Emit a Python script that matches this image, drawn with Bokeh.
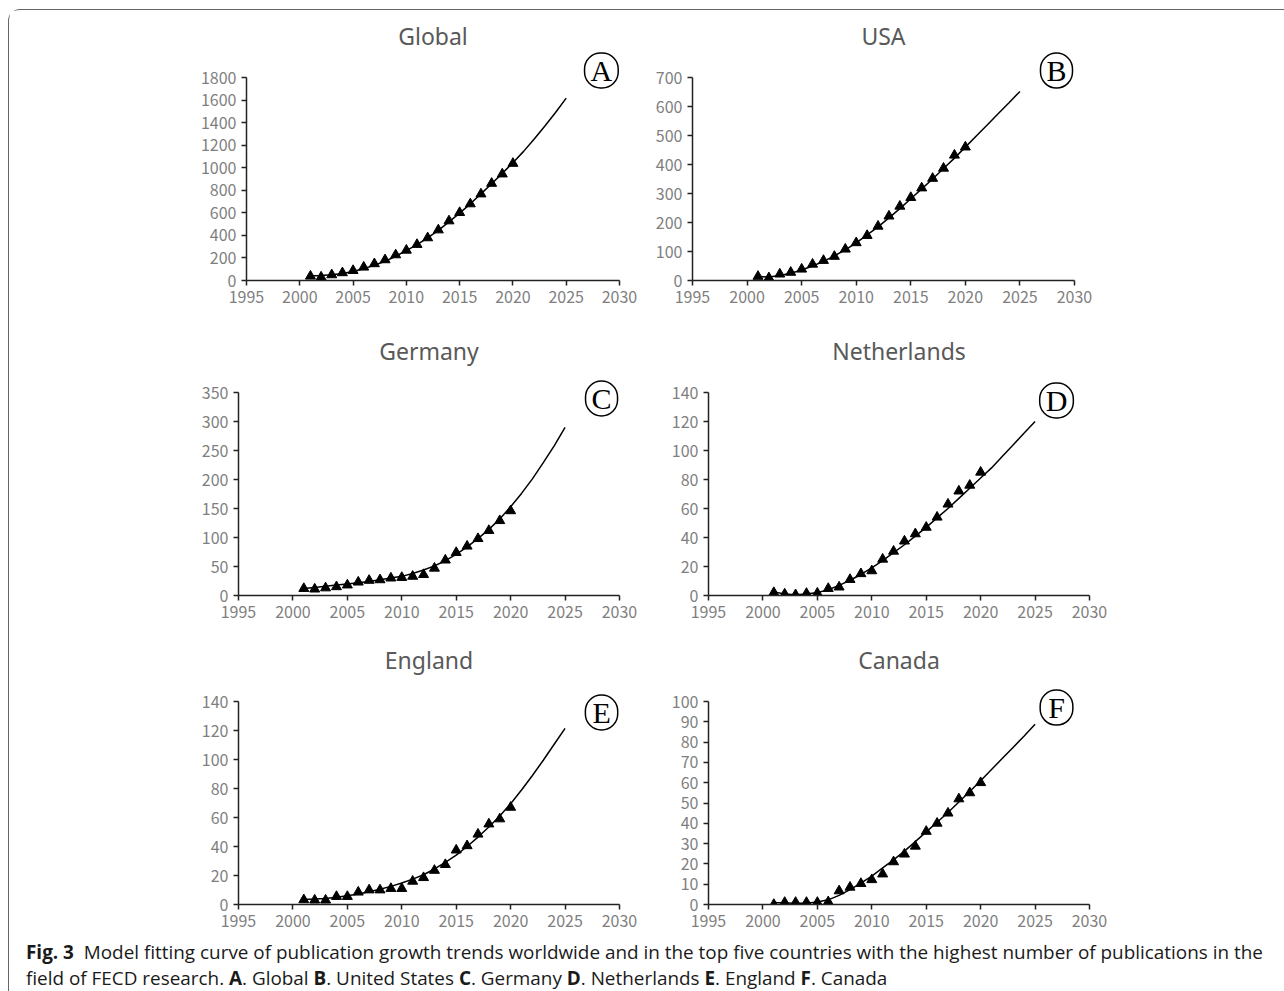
from bokeh.plotting import figure
from bokeh.models import Range1d, FixedTicker, Label, Div
from bokeh.layouts import column, row
from bokeh.embed import file_html
from bokeh.resources import INLINE

# ---------------- data ----------------
years_obs = list(range(2001, 2021))
years_fit = list(range(2001, 2026))
x_ticks = [1995, 2000, 2005, 2010, 2015, 2020, 2025, 2030]

global_obs = [38, 30, 50, 68, 88, 118, 148, 183, 227, 268, 319, 378, 448, 528, 602, 679, 767, 861, 944, 1038]
global_fit = [40, 45, 52, 63, 80, 105, 135, 170, 215, 265, 318, 378, 445, 520, 598, 680, 768, 858, 950, 1045,
              1145, 1255, 1370, 1490, 1617]
global_yticks = [0, 200, 400, 600, 800, 1000, 1200, 1400, 1600, 1800]

usa_obs = [14, 9, 22, 28, 39, 56, 69, 83, 108, 130, 155, 187, 222, 256, 286, 319, 352, 387, 432, 460]
usa_fit = [14, 12, 17, 25, 36, 50, 66, 85, 106, 130, 157, 185, 216, 248, 282, 316, 350, 386, 422, 460,
           498, 536, 575, 613, 652]
usa_yticks = [0, 100, 200, 300, 400, 500, 600, 700]

germany_obs = [12, 11, 13, 15, 18, 23, 26, 27, 30, 31, 33, 36, 47, 61, 74, 85, 98, 112, 129, 146]
germany_fit = [12, 14, 16, 18, 20, 22, 24, 27, 30, 33, 38, 44, 51, 60, 71, 84, 98, 114, 132, 153,
               176, 201, 229, 258, 290]
germany_yticks = [0, 50, 100, 150, 200, 250, 300, 350]

netherlands_obs = [2, 1, 0.5, 1.4, 1.6, 4.8, 5.8, 11, 15, 17, 25, 30.5, 37.5, 42.5, 47, 54, 63, 72, 76, 85]
netherlands_fit = [2.5, 1, 0.5, 1, 2, 4, 7, 10.5, 14.5, 19, 24, 29.5, 35, 41, 47, 53.5, 60, 67, 74, 81,
                   88, 96, 104, 112, 120]
netherlands_yticks = [0, 20, 40, 60, 80, 100, 120, 140]

england_obs = [3.2, 3, 3, 5.5, 5.5, 8.5, 10, 10, 11, 11, 16, 18.5, 23.5, 27.5, 37.5, 40.5, 48.5, 55.5, 59, 67]
england_fit = [3.5, 3.8, 4.2, 5, 6, 7.3, 8.8, 10.5, 12.5, 14.8, 17.5, 20.5, 24.5, 29, 34, 40, 46.5, 53.5, 61, 69.5,
               79, 89, 99.5, 110.5, 121.5]
england_yticks = [0, 20, 40, 60, 80, 100, 120, 140]

canada_obs = [0, 1, 1, 1, 1, 1.3, 6.7, 8.5, 10.3, 12.2, 15, 21, 24.8, 28.7, 36, 40, 45, 52, 55, 60]
canada_fit = [1, 0.8, 0.6, 0.6, 1.2, 2.3, 4.5, 7.3, 10.5, 14, 18, 22, 26.3, 31, 35.8, 40.5, 45.3, 50.5, 55.7, 61,
              66.5, 72, 77.5, 83, 88.8]
canada_yticks = [0, 10, 20, 30, 40, 50, 60, 70, 80, 90, 100]

titles = ["Global", "USA", "Germany", "Netherlands", "England", "Canada"]
letters = ["A", "B", "C", "D", "E", "F"]

caption_html = (
    "<b>Fig. 3</b>&nbsp; Model fitting curve of publication growth trends worldwide and in the top five "
    "countries with the highest number of publications in the<br>field of FECD research. "
    "<b>A</b>. Global <b>B</b>. United States <b>C</b>. Germany <b>D</b>. Netherlands "
    "<b>E</b>. England <b>F</b>. Canada"
)

# ---------------- layout / style ----------------
HEAD = 28          # extra frame height above the axis top (room for circled letter)
AXIS_H = 203       # pixel height of the y axis
TICK_FONT = "Noto Sans CJK SC"
TICK_COLOR = "#7f7f7f"
TITLE_COLOR = "#595959"
LETTER_SIZE = 30
CIRCLE_D = 33
# approximate advance widths (em) of serif capitals, used to make the label box round
serif_w = {"A": 0.722, "B": 0.667, "C": 0.667, "D": 0.722, "E": 0.611, "F": 0.556}

# per panel: (obs, fit, yticks, frame_width, border_left, border_right, border_top, border_bottom,
#             letter_x, letter_y)
panels = [
    (global_obs, global_fit, global_yticks, 373, 237, 21, 39, 40, 2028.3, 1862),
    (usa_obs, usa_fit, usa_yticks, 382, 52, 22, 39, 40, 2028.35, 724),
    (germany_obs, germany_fit, germany_yticks, 381, 229, 21, 44, 35, 2028.35, 339.7),
    (netherlands_obs, netherlands_fit, netherlands_yticks, 381, 68, 22, 44, 35, 2026.97, 134.5),
    (england_obs, england_fit, england_yticks, 381, 229, 21, 43, 30, 2028.35, 132.4),
    (canada_obs, canada_fit, canada_yticks, 381, 68, 22, 43, 30, 2026.97, 97.0),
]

figs = []
for i, (obs, fit, yt, fw, bl, br, bt, bb, lx, ly) in enumerate(panels):
    ymax = yt[-1]
    p = figure(
        output_backend="svg", toolbar_location=None,
        frame_width=fw, frame_height=AXIS_H + HEAD,
        min_border_left=bl, min_border_right=br, min_border_top=bt, min_border_bottom=bb,
        x_range=Range1d(1995, 2030), y_range=Range1d(0, ymax * (1 + HEAD / AXIS_H)),
        title=titles[i],
    )
    p.outline_line_color = None
    p.background_fill_color = "white"
    p.border_fill_color = "white"
    p.grid.visible = False

    p.title.align = "center"
    p.title.text_font = "Noto Sans"
    p.title.text_font_style = "normal"
    p.title.text_font_size = "23px"
    p.title.text_color = TITLE_COLOR
    p.title.standoff = -4

    for ax, ticks, bounds in ((p.xaxis[0], x_ticks, (1995, 2030)), (p.yaxis[0], yt, (0, ymax))):
        ax.ticker = FixedTicker(ticks=ticks)
        ax.bounds = bounds
        ax.axis_line_color = "#222222"
        ax.axis_line_width = 1.5
        ax.major_tick_line_color = "#222222"
        ax.major_tick_line_width = 1.5
        ax.major_tick_out = 5
        ax.major_tick_in = 0
        ax.minor_tick_line_color = None
        ax.major_label_text_font = TICK_FONT
        ax.major_label_text_font_size = "16px"
        ax.major_label_text_color = TICK_COLOR
        ax.major_label_standoff = 5

    p.line(years_fit, fit, line_color="black", line_width=1.5)
    p.scatter(years_obs, obs, marker="triangle", size=10, fill_color="black", line_color="black")

    pad_h = max(0, int(round((CIRCLE_D - serif_w[letters[i]] * LETTER_SIZE) / 2)))
    lab = Label(
        x=lx, y=ly, text=letters[i], text_font="Liberation Serif", text_font_size=f"{LETTER_SIZE}px",
        text_align="center", text_baseline="middle", text_color="black",
        border_line_color="black", border_line_width=1.5, border_radius=CIRCLE_D // 2,
        padding=dict(top=1, bottom=1, left=pad_h, right=pad_h),
    )
    p.add_layout(lab)
    figs.append(p)

caption = Div(
    text=caption_html, width=1268,
    styles={"font-family": "'Open Sans', sans-serif", "font-size": "18.9px", "line-height": "26px",
            "color": "#1a1a1a", "margin-top": "5px", "padding-left": "12px", "white-space": "nowrap"},
)

layout = column(
    row(figs[0], figs[1]),
    row(figs[2], figs[3]),
    row(figs[4], figs[5]),
    caption,
    styles={"border-top": "1px solid #666666", "border-left": "1px solid #666666",
            "border-top-left-radius": "12px", "margin": "9px 0px 0px 8px"},
    width=1276,
)

open("out.html", "w").write(file_html(layout, INLINE))
